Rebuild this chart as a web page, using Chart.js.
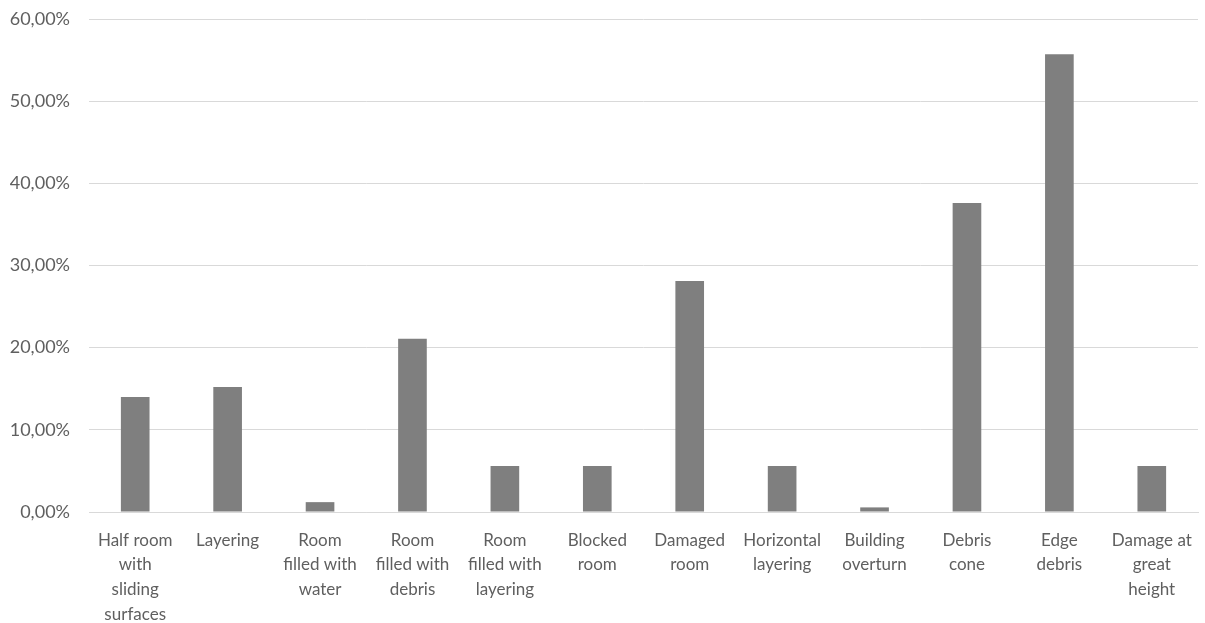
<!DOCTYPE html>
<html>
<head>
<meta charset="utf-8">
<script src="https://cdn.jsdelivr.net/npm/chart.js@4/dist/chart.umd.min.js"></script>
<style>
  html, body { margin: 0; padding: 0; background: #ffffff; }
  #wrap { width: 1205px; height: 623px; position: relative; }
</style>
</head>
<body>
<div id="wrap"><canvas id="chart"></canvas></div>
<script>
// Damage categories (multi-line labels) and their share in percent
const categories = [
  ["Half room", "with", "sliding", "surfaces"],
  ["Layering"],
  ["Room", "filled with", "water"],
  ["Room", "filled with", "debris"],
  ["Room", "filled with", "layering"],
  ["Blocked", "room"],
  ["Damaged", "room"],
  ["Horizontal", "layering"],
  ["Building", "overturn"],
  ["Debris", "cone"],
  ["Edge", "debris"],
  ["Damage at", "great", "height"]
];
const shares = [14.0, 15.2, 1.2, 21.1, 5.6, 5.6, 28.1, 5.6, 0.56, 37.6, 55.7, 5.6];
const yTicks = [0, 10, 20, 30, 40, 50, 60];

const textColor = '#5f5f5f';
const fontFamily = 'Lato, "Open Sans", sans-serif';

new Chart(document.getElementById('chart'), {
  type: 'bar',
  data: {
    labels: categories,
    datasets: [{
      data: shares,
      backgroundColor: '#7f7f7f',
      borderWidth: 0,
      categoryPercentage: 1,
      barPercentage: 0.31
    }]
  },
  options: {
    responsive: true,
    maintainAspectRatio: false,
    animation: false,
    layout: { padding: { top: 19, right: 7, bottom: 0, left: 0 } },
    plugins: { legend: { display: false }, tooltip: { enabled: false } },
    scales: {
      x: {
        grid: { display: false, drawTicks: false },
        border: { display: true, color: '#d9d9d9' },
        ticks: {
          color: textColor,
          font: { family: fontFamily, size: 17, lineHeight: 1.45 },
          padding: 16,
          maxRotation: 0,
          autoSkip: false
        },
        afterFit: (scale) => {
          scale.height = 111;
          scale.paddingLeft = 0;
          scale.paddingRight = 0;
        }
      },
      y: {
        min: yTicks[0],
        max: yTicks[yTicks.length - 1],
        grid: { color: '#d9d9d9', lineWidth: 1, drawTicks: false },
        border: { display: false },
        afterBuildTicks: (scale) => { scale.ticks = yTicks.map(v => ({ value: v })); },
        ticks: {
          color: textColor,
          font: { family: fontFamily, size: 18 },
          padding: 19,
          callback: (v) => v.toFixed(2).replace('.', ',') + '%'
        },
        afterFit: (scale) => {
          scale.width = 89;
          scale.paddingTop = 0;
          scale.paddingBottom = 0;
        }
      }
    }
  }
});
</script>
</body>
</html>
